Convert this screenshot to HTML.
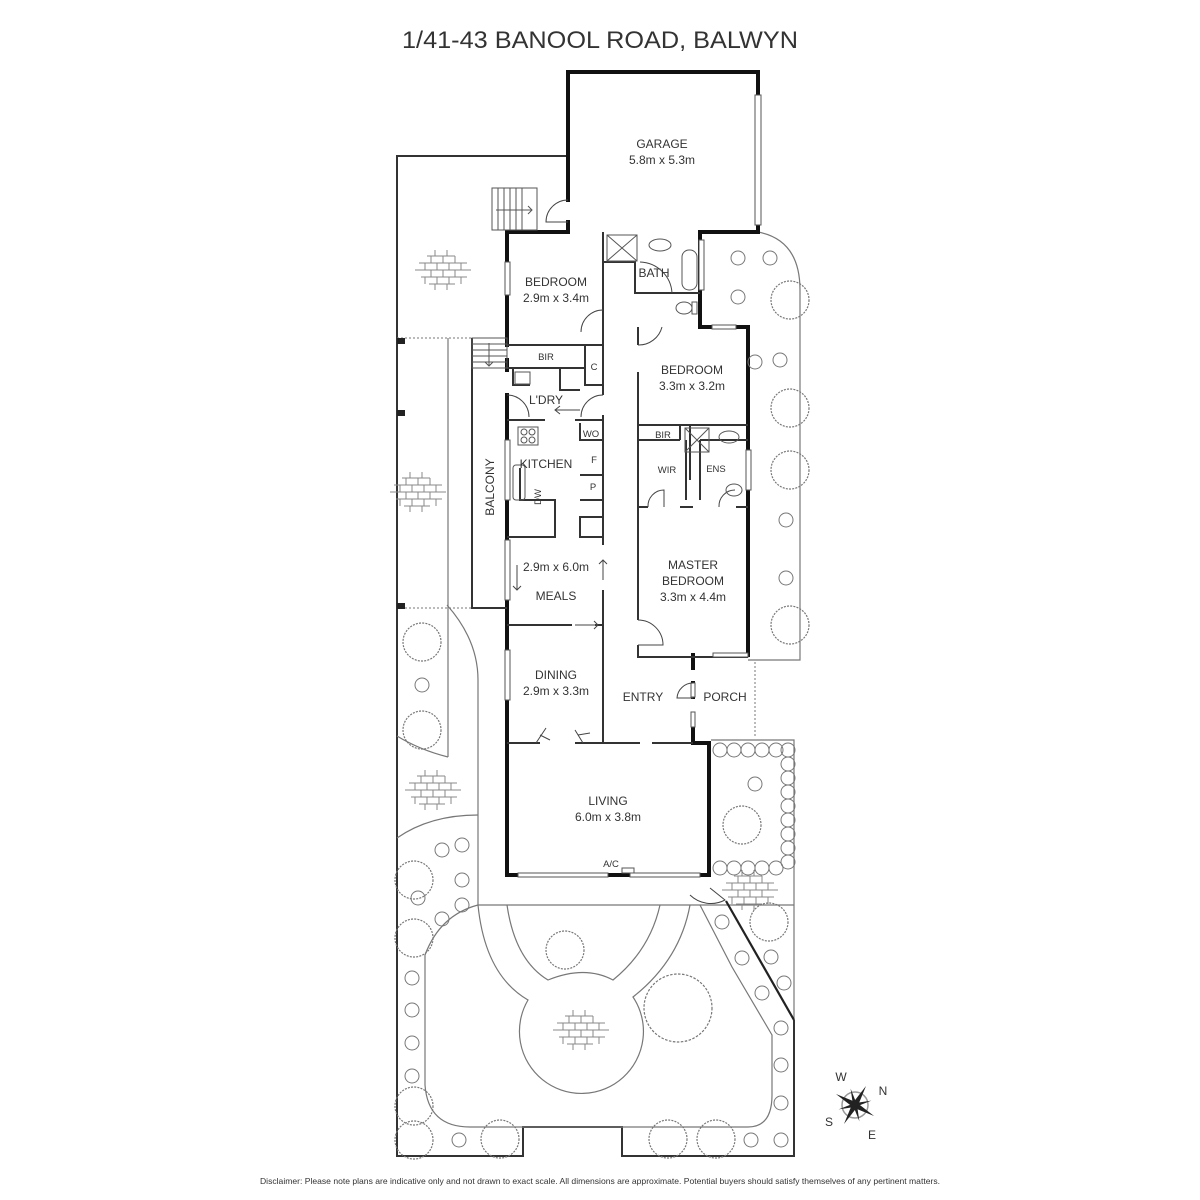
<!DOCTYPE html>
<html><head><meta charset="utf-8"><style>
html,body{margin:0;padding:0;background:#fff}
svg{display:block}
text{font-family:"Liberation Sans",sans-serif;fill:#333}
</style></head><body>
<svg width="1200" height="1200" viewBox="0 0 1200 1200" xmlns="http://www.w3.org/2000/svg">
<defs>
<g id="brick" stroke="#888" stroke-width="1" fill="none">
<path d="M-18,-14 H10 M-26,-7 H22 M-30,0 H26 M-24,7 H22 M-16,14 H10 M-10,-20 V-14 M2,-20V-14 M-14,-14V-7 M-2,-14V-7 M10,-14V-7 M-20,-7V0 M-8,-7V0 M4,-7V0 M16,-7V0 M-14,0V7 M-2,0V7 M10,0V7 M-20,7V14 M-8,7V14 M4,7V14 M16,7V14 M-10,14V20 M2,14V20"/>
</g>
<g id="tree"><circle r="19" fill="none" stroke="#777" stroke-width="1.2" stroke-dasharray="2 1.2"/></g>
<g id="bigtree"><circle r="34" fill="none" stroke="#777" stroke-width="1.2" stroke-dasharray="2.5 1.5"/></g>
<g id="sm"><circle r="7" fill="none" stroke="#777" stroke-width="1"/></g>
</defs>

<text x="402" y="48" font-size="24" textLength="396" lengthAdjust="spacingAndGlyphs">1/41-43 BANOOL ROAD, BALWYN</text>

<g fill="none" stroke="#333" stroke-width="2">
<path d="M568,156 H397 V1156 H523 V1127 H622 V1156 H794 V1020"/>
</g>
<g fill="none" stroke="#777" stroke-width="1.2">
<path d="M758,232 Q800,240 800,290 V660 H748"/>
<path d="M794,1020 V740 H711"/>
<path d="M448,338 V757"/>
<path d="M397,736 Q420,750 448,757"/>
<path d="M447,605 Q478,640 478,680 V905"/>
<path d="M397,838 Q430,815 478,815"/>
<path d="M478,905 H794"/>
<path d="M478,905 Q440,915 425,955 V1085 Q428,1127 470,1127 H748 Q772,1127 772,1095 V1035 L732,967 L700,905"/>
<path d="M478,905 Q485,975 528,1000 A62,62 0 1 0 633,997 Q680,960 690,905"/>
<path d="M507,905 Q515,960 548,980 Q585,965 613,980 Q650,950 660,905"/>
</g>
<g stroke="#777" stroke-dasharray="2 2" stroke-width="1"><path d="M397,338 H472 M397,608 H472 M755,662 V736"/></g>
<path d="M726,901 L794,1020" stroke="#222" stroke-width="2.2" fill="none"/>
<rect x="397" y="338" width="8" height="6" fill="#222"/><rect x="397" y="410" width="8" height="6" fill="#222"/><rect x="397" y="603" width="8" height="6" fill="#222"/>

<g fill="none" stroke="#111" stroke-width="4" stroke-linecap="square">
<path d="M568,200 V72 H758 V95"/>
<path d="M758,225 V232 H700 V327 H712"/>
<path d="M736,327 H748 V655"/>
<path d="M568,222 V232 H507 V262 M507,295 V345"/>
<path d="M507,360 V370 M507,395 V440 M507,500 V540 M507,600 V650 M507,700 V875 H518"/>
<path d="M608,875 H630"/>
<path d="M700,875 H709 V743 H693 V727"/>
<path d="M693,697 V683 M693,668 V655"/>
</g>
<g fill="none" stroke="#333" stroke-width="2">
<path d="M603,232 V345 H507 M603,345 V395 M603,415 V545 M603,590 V743 H640 M507,743 H540 M575,743 H603"/>
<path d="M652,743 H693"/>
<path d="M638,327 V345 M638,372 V620 M638,645 V657 H748"/>
<path d="M507,625 H572 M595,625 H603"/>
<path d="M507,368 H585 V345 M585,368 V385 H603"/>
<path d="M638,425 H748 M638,440 H680 M680,425 V440 M690,425 V480 M686,440 V500 M700,440 V500 M700,440 H748 M638,507 H648 M680,507 H693 M736,507 H748"/>
<path d="M603,262 H635 V293 H700"/>
<path d="M507,420 H545 M575,420 H603"/>
<path d="M472,338 V608 H507"/>
<path d="M507,537 H555 V500 H520 V468 M555,507 V520"/>
<path d="M580,475 H603 M580,500 H603 V517 H580 V537 H603 M580,423 V440 H603"/>
<path d="M513,368 V385 H530 M560,368 V390 H580"/>
</g>
<g stroke="#555" stroke-width="1" fill="#fff">
<rect x="755" y="95" width="6" height="130"/>
<rect x="505" y="262" width="5" height="33"/>
<rect x="505" y="440" width="5" height="60"/>
<rect x="505" y="540" width="5" height="60"/>
<rect x="505" y="650" width="5" height="50"/>
<rect x="699" y="240" width="5" height="50"/>
<rect x="746" y="450" width="5" height="40"/>
<rect x="712" y="325" width="24" height="4"/>
<rect x="518" y="873" width="90" height="4"/>
<rect x="630" y="873" width="70" height="4"/>
<rect x="691" y="683" width="4" height="14"/>
<rect x="691" y="712" width="4" height="15"/>
<rect x="713" y="653" width="35" height="4"/>
<rect x="622" y="868" width="12" height="5"/>
</g>
<g fill="none" stroke="#555" stroke-width="1">
<rect x="492" y="188" width="45" height="42"/>
<path d="M498,188V230 M504,188V230 M510,188V230 M516,188V230 M522,188V230 M496,210 H532 M528,206 L532,210 L528,214"/>
<rect x="472" y="338" width="35" height="30"/>
<path d="M472,344H507 M472,350H507 M472,356H507 M472,362H507 M489,343V366 M485,362 L489,366 L493,362"/>
</g>
<g fill="none" stroke="#444" stroke-width="1">
<path d="M568,200 A22,22 0 0 0 546,222 H568"/>
<path d="M603,310 A22,22 0 0 0 581,332 M640,262 A33,33 0 0 1 672,293"/>
<path d="M638,345 A24,24 0 0 0 662,327"/>
<path d="M507,395 A22,22 0 0 1 529,417 M603,395 A22,22 0 0 0 581,417"/>
<path d="M648,507 A16,16 0 0 1 664,490 V507 M719,507 A16,16 0 0 1 735,490"/>
<path d="M638,620 A25,25 0 0 1 663,645 H638"/>
<path d="M693,683 A16,16 0 0 0 677,698 H693"/>
<path d="M690,895 A30,30 0 0 0 725,900 L710,888"/>
<path d="M580,410 H555 M560,406 L555,410 L560,414 M517,565 V590 M513,586 L517,590 L521,586 M603,560 V580 M599,564 L603,560 L607,564 M575,625 H598 M594,621 L598,625 L594,629"/>
<path d="M536,743 L546,728 M540,735 L550,740 M583,743 L575,730 M578,735 L590,733"/>
</g>
<g fill="none" stroke="#555" stroke-width="1">
<rect x="607" y="235" width="30" height="26"/><path d="M607,235 L637,261 M637,235 L607,261"/>
<rect x="685" y="428" width="24" height="24"/><path d="M685,428 L709,452 M709,428 L685,452"/>
<ellipse cx="660" cy="245" rx="11" ry="6"/><rect x="682" y="250" width="15" height="40" rx="7"/>
<ellipse cx="684" cy="308" rx="8" ry="6"/><rect x="692" y="302" width="5" height="12"/>
<ellipse cx="729" cy="437" rx="10" ry="6"/>
<ellipse cx="734" cy="490" rx="8" ry="6"/>
<rect x="518" y="427" width="20" height="18"/><circle cx="524" cy="432" r="3"/><circle cx="532" cy="432" r="3"/><circle cx="524" cy="440" r="3"/><circle cx="532" cy="440" r="3"/>
<rect x="513" y="465" width="12" height="35" rx="3"/>
<rect x="515" y="372" width="15" height="12"/>
</g>

<use href="#brick" x="445" y="270"/><use href="#brick" x="420" y="492"/><use href="#brick" x="435" y="790"/><use href="#brick" x="752" y="890"/><use href="#brick" x="583" y="1030"/>
<g>
<use href="#sm" x="738" y="258"/><use href="#sm" x="770" y="258"/><use href="#sm" x="738" y="297"/>
<use href="#tree" x="790" y="300"/><use href="#sm" x="755" y="362"/><use href="#sm" x="780" y="360"/>
<use href="#tree" x="790" y="408"/><use href="#tree" x="790" y="470"/><use href="#sm" x="786" y="520"/><use href="#sm" x="786" y="578"/><use href="#tree" x="790" y="625"/>
<use href="#tree" x="422" y="642"/><use href="#sm" x="422" y="685"/><use href="#tree" x="422" y="730"/>
<use href="#sm" x="442" y="850"/><use href="#sm" x="462" y="845"/><use href="#sm" x="462" y="880"/><use href="#tree" x="414" y="880"/>
<use href="#sm" x="418" y="898"/><use href="#sm" x="442" y="919"/><use href="#sm" x="462" y="905"/><use href="#tree" x="414" y="938"/>
<use href="#sm" x="412" y="978"/><use href="#sm" x="412" y="1010"/><use href="#sm" x="412" y="1043"/><use href="#sm" x="412" y="1076"/>
<use href="#tree" x="414" y="1106"/><use href="#tree" x="414" y="1140"/><use href="#sm" x="459" y="1140"/><use href="#tree" x="500" y="1139"/>
<use href="#tree" x="668" y="1139"/><use href="#tree" x="716" y="1139"/><use href="#sm" x="751" y="1140"/><use href="#sm" x="781" y="1140"/>
<use href="#sm" x="781" y="1103"/><use href="#sm" x="781" y="1065"/><use href="#sm" x="781" y="1028"/><use href="#sm" x="762" y="993"/><use href="#sm" x="784" y="983"/><use href="#sm" x="742" y="958"/><use href="#sm" x="771" y="957"/><use href="#sm" x="722" y="922"/>
<use href="#tree" x="769" y="922"/><use href="#tree" x="565" y="950"/><use href="#bigtree" x="678" y="1008"/>
<use href="#tree" x="742" y="825"/><use href="#sm" x="755" y="784"/>
</g>
<g fill="none" stroke="#777" stroke-width="1">
<circle cx="720" cy="750" r="7"/><circle cx="734" cy="750" r="7"/><circle cx="748" cy="750" r="7"/><circle cx="762" cy="750" r="7"/><circle cx="776" cy="750" r="7"/><circle cx="788" cy="750" r="7"/>
<circle cx="788" cy="764" r="7"/><circle cx="788" cy="778" r="7"/><circle cx="788" cy="792" r="7"/><circle cx="788" cy="806" r="7"/><circle cx="788" cy="820" r="7"/><circle cx="788" cy="834" r="7"/><circle cx="788" cy="848" r="7"/><circle cx="788" cy="862" r="7"/>
<circle cx="720" cy="868" r="7"/><circle cx="734" cy="868" r="7"/><circle cx="748" cy="868" r="7"/><circle cx="762" cy="868" r="7"/><circle cx="776" cy="868" r="7"/>
</g>

<g font-size="12" text-anchor="middle">
<text x="662" y="148">GARAGE</text><text x="662" y="164">5.8m x 5.3m</text>
<text x="556" y="286">BEDROOM</text><text x="556" y="302">2.9m x 3.4m</text>
<text x="654" y="277">BATH</text>
<text x="692" y="374">BEDROOM</text><text x="692" y="390">3.3m x 3.2m</text>
<text x="546" y="404">L'DRY</text>
<text x="546" y="468">KITCHEN</text>
<text x="556" y="571">2.9m x 6.0m</text>
<text x="556" y="600">MEALS</text>
<text x="693" y="569">MASTER</text><text x="693" y="585">BEDROOM</text><text x="693" y="601">3.3m x 4.4m</text>
<text x="556" y="679">DINING</text><text x="556" y="695">2.9m x 3.3m</text>
<text x="643" y="701">ENTRY</text><text x="725" y="701">PORCH</text>
<text x="608" y="805">LIVING</text><text x="608" y="821">6.0m x 3.8m</text>
</g>
<g font-size="9.5" text-anchor="middle">
<text x="546" y="360">BIR</text><text x="594" y="370">C</text><text x="591" y="437">WO</text><text x="593" y="490">P</text><text x="594" y="463">F</text>
<text x="663" y="438">BIR</text><text x="667" y="473">WIR</text><text x="716" y="472">ENS</text><text x="611" y="867">A/C</text>
<text x="541" y="497" transform="rotate(-90 541 497)">DW</text>
</g>
<text x="494" y="487" font-size="12" text-anchor="middle" transform="rotate(-90 494 487)">BALCONY</text>

<g transform="translate(855,1105)">
<circle r="13" fill="none" stroke="#999" stroke-width="1.5"/>
<g fill="#222">
<polygon points="0,-22 3,0 0,22 -3,0" transform="rotate(30)"/>
<polygon points="0,-22 3,0 0,22 -3,0" transform="rotate(120)"/>
<polygon points="0,-17 2,0 0,17 -2,0" transform="rotate(75)"/>
<polygon points="0,-17 2,0 0,17 -2,0" transform="rotate(165)"/>
</g>
</g>
<g font-size="12" text-anchor="middle"><text x="841" y="1081">W</text><text x="883" y="1095">N</text><text x="829" y="1126">S</text><text x="872" y="1139">E</text></g>

<text x="260" y="1184" font-size="8.5" textLength="680" lengthAdjust="spacingAndGlyphs">Disclaimer: Please note plans are indicative only and not drawn to exact scale. All dimensions are approximate. Potential buyers should satisfy themselves of any pertinent matters.</text>
</svg>
</body></html>
